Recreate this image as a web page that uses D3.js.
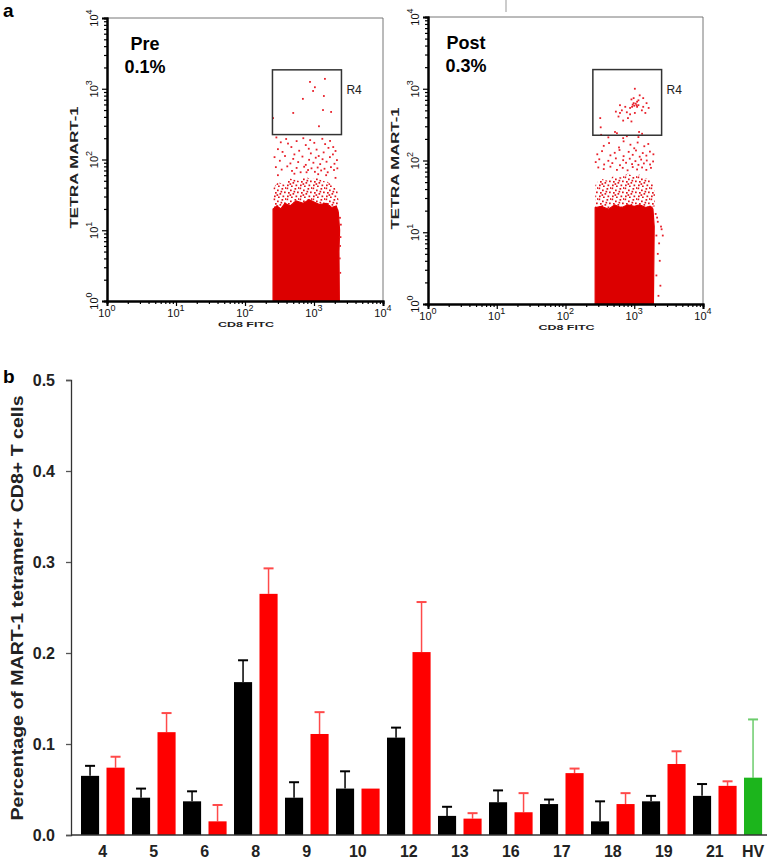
<!DOCTYPE html>
<html>
<head>
<meta charset="utf-8">
<script src="https://cdn.jsdelivr.net/npm/d3@7/dist/d3.min.js"></script>
<style>
  html, body { margin: 0; padding: 0; background: #fff; }
  svg { display: block; }
  text { font-family: "Liberation Sans", Arial, sans-serif; }
</style>
</head>
<body>
<svg id="chart" width="773" height="863"></svg>
<script>
// ---------------- DATA ----------------
// Panel a: flow cytometry (CD8 FITC vs TETRA MART-1)
const flowTicks = [1, 10, 100, 1000, 10000];
const flowTickExp = ["0", "1", "2", "3", "4"];
const gateX = [250, 2500];
const gateY = [225, 1850];

// solid event core outline and stippled transition zone (CD8, TETRA)
const preCore = [[255,1],[255,20],[290,22],[330,20],[380,24],[450,22],[550,26],[700,24],[850,27],[1000,25],[1200,23],[1500,24],[1800,21],[2100,22],[2250,18],[2350,10],[2300,5],[2330,1]];
const preZone = [[255,19],[258,40],[300,48],[380,44],[450,54],[600,50],[750,58],[900,52],[1100,56],[1300,50],[1600,48],[1900,42],[2200,36],[2320,24],[2250,18]];
const preDots = [
  [875,1250],[1440,1380],[1030,1050],[970,930],[690,720],[1390,790],[500,455],[1350,500],[1770,470],[255,385],[1180,295],
  [285,205],[330,175],[395,195],[420,168],[560,182],[700,200],[760,160],[880,188],[1010,172],[1320,196],[1450,165],[1710,183],[1900,150],
  [300,140],[350,128],[470,150],[520,118],[610,133],[840,142],[900,122],[1090,138],[1170,112],[1380,126],[1620,146],[1880,118],[2050,132],
  [268,108],[320,96],[380,112],[455,88],[500,102],[590,92],[680,110],[760,84],[850,99],[980,90],[1060,106],[1230,86],[1330,101],[1520,93],[1700,108],[1980,87],[2150,98],
  [280,78],[340,72],[410,80],[480,69],[560,76],[640,66],[720,79],[820,71],[920,75],[1030,67],[1130,77],[1270,70],[1420,74],[1580,66],[1760,78],[1950,71],[2180,75],
  [300,60],[520,63],[780,66],[1150,62],[1500,60],[2050,55],
  [2380,15],[2420,8],[2360,4],[2450,12],[2400,2.5],[2390,6]
];

const postCore = [[270,1],[270,22],[330,23],[420,21],[520,24],[650,22],[800,24],[1000,23],[1200,24],[1500,22],[1700,23],[1870,21],[1950,12],[1900,1]];
const postZone = [[270,21],[272,46],[320,56],[420,52],[500,62],[650,58],[800,66],[1000,60],[1200,64],[1400,57],[1650,55],[1850,48],[2000,34],[1960,22]];
const postDots = [
  [1020,1000],[1200,810],[910,710],[1100,660],[980,630],[1150,590],[620,590],[740,560],[870,540],[660,500],[540,480],
  [780,470],[1020,460],[1290,500],[1350,560],[1510,630],[1350,740],[1100,560],[590,410],[810,390],[690,360],[910,350],
  [320,390],[325,290],[525,250],[1175,250],[1150,690],[980,740],[870,440],[620,460],[1450,460],[1620,540],
  [950,600],[1050,620],[1000,580],[1080,590],[930,560],
  [330,228],[420,210],[560,240],[690,205],[780,218],[1150,212],[1300,236],
  [360,160],[430,175],[600,152],[700,185],[880,166],[1000,148],[1120,178],[1400,158],[1600,170],
  [290,122],[340,135],[450,118],[520,128],[610,140],[700,115],[830,132],[950,120],[1060,138],[1200,113],[1330,127],[1500,117],[1690,133],[1900,122],
  [275,95],[310,104],[365,88],[420,99],[480,92],[540,107],[620,86],[690,101],[760,93],[860,106],[930,89],[1040,98],[1150,87],[1260,103],[1380,91],[1520,100],[1700,88],[1880,97],
  [300,80],[360,76],[450,82],[560,74],[680,79],[800,73],[950,81],[1100,75],[1300,80],[1500,74],[1750,79],
  [2050,18],[2200,14],[2450,12],[2100,9],[2300,7],[2500,11],[2200,5],[2350,4],[2100,2.5],[2400,1.8],[2250,1.3],[2150,16],[2600,9]
];

// Panel b: bar chart
const patients = ["4","5","6","8","9","10","12","13","16","17","18","19","21"];
const preValues  = [0.065,0.041,0.037,0.168,0.041,0.051,0.107,0.021,0.036,0.034,0.015,0.037,0.043];
const preSD      = [0.011,0.010,0.011,0.024,0.017,0.019,0.011,0.010,0.013,0.005,0.022,0.006,0.013];
const postValues = [0.074,0.113,0.015,0.265,0.111,0.051,0.201,0.018,0.025,0.068,0.034,0.078,0.054];
const postSD     = [0.012,0.021,0.018,0.028,0.024,0.000,0.055,0.006,0.021,0.005,0.012,0.014,0.005];
const hvLabel = "HV";
const hvValue = 0.063;
const hvSD = 0.064;
const yTicks = [0.0, 0.1, 0.2, 0.3, 0.4, 0.5];

// ---------------- DRAW ----------------
const svg = d3.select("#chart");

// stipple pattern for the transition zone of the event cloud (hand-placed dots in a 13x11 tile)
const stipple = [[0.5,0.5],[4,2.5],[8.5,1],[11,4.5],[2,5],[6.5,6],[9.5,8.5],[1,8.5],[5,9.5],[12,0.2],[3.5,7.2],[7.5,3.8]];
const defs = svg.append("defs");
const pat = defs.append("pattern").attr("id", "stip").attr("width", 13).attr("height", 11)
  .attr("patternUnits", "userSpaceOnUse");
stipple.forEach(p =>
  pat.append("rect").attr("x", p[0]).attr("y", p[1]).attr("width", 1.7).attr("height", 1.7).attr("fill", "#e0141c"));

svg.append("text").attr("x", 3).attr("y", 17).attr("font-size", 19).attr("font-weight", "bold").text("a");
svg.append("text").attr("x", 3).attr("y", 383).attr("font-size", 19).attr("font-weight", "bold").text("b");
// small grey mark at top
svg.append("line").attr("x1", 506).attr("x2", 506).attr("y1", 0).attr("y2", 12).attr("stroke", "#999").attr("stroke-width", 1);

function flowPlot(box, core, zone, dots, title, pct) {
  const g = svg.append("g");
  const x = d3.scaleLog().domain([1, 10000]).range([box.x0, box.x1]);
  const y = d3.scaleLog().domain([1, 10000]).range([box.y1, box.y0]);
  const line = d3.line().x(d => x(d[0])).y(d => y(d[1]));

  // frame (top & right thin)
  g.append("path").attr("d", `M${box.x0},${box.y0}H${box.x1}V${box.y1}`)
    .attr("fill", "none").attr("stroke", "#777").attr("stroke-width", 1);

  // stippled zone, dense core
  g.append("path").datum(zone).attr("d", line).attr("fill", "url(#stip)");
  g.append("path").datum(core).attr("d", line)
    .attr("fill", "#dc0000").attr("stroke", "#e30000").attr("stroke-width", 1.2);
  // sparse events
  g.selectAll("rect.ev").data(dots).join("rect")
    .attr("x", d => x(d[0]) - 0.9).attr("y", d => y(d[1]) - 0.9)
    .attr("width", 1.8).attr("height", 1.8).attr("fill", "#e8202a");

  // gate
  g.append("rect")
    .attr("x", x(gateX[0])).attr("y", y(gateY[1]))
    .attr("width", x(gateX[1]) - x(gateX[0])).attr("height", y(gateY[0]) - y(gateY[1]))
    .attr("fill", "none").attr("stroke", "#333").attr("stroke-width", 1.5);
  g.append("text").attr("x", x(gateX[1]) + 5).attr("y", y(gateY[1]) + 24)
    .attr("font-size", 12).attr("fill", "#222").text("R4");

  // minor ticks
  const minors = [];
  for (let d = 1; d < 10000; d *= 10) for (let k = 2; k <= 9; k++) minors.push(d * k);

  const xAxis = g.append("g").attr("transform", `translate(0,${box.y1})`);
  xAxis.call(d3.axisBottom(x).tickValues(minors).tickSize(3).tickFormat(""));
  xAxis.append("g").call(d3.axisBottom(x).tickValues(flowTicks).tickSize(5).tickFormat(""));
  const yAxis = g.append("g").attr("transform", `translate(${box.x0},0)`);
  yAxis.call(d3.axisLeft(y).tickValues(minors).tickSize(3).tickFormat(""));
  yAxis.append("g").call(d3.axisLeft(y).tickValues(flowTicks).tickSize(5).tickFormat(""));
  g.selectAll(".domain").attr("stroke", "#000").attr("stroke-width", 2);
  g.selectAll(".tick line").attr("stroke", "#000").attr("stroke-width", 1.2);

  // x tick labels
  flowTicks.forEach((t, i) => {
    const tx = g.append("text").attr("x", x(t)).attr("y", box.y1 + 16)
      .attr("text-anchor", "middle").attr("font-size", 11).attr("fill", "#111");
    tx.append("tspan").text("10");
    tx.append("tspan").attr("dy", -6).attr("font-size", 9).text(flowTickExp[i]);
  });
  // y tick labels (rotated)
  flowTicks.forEach((t, i) => {
    const ty = g.append("text")
      .attr("transform", `translate(${box.x0 - 9},${y(t)}) rotate(-90)`)
      .attr("text-anchor", "middle").attr("font-size", 11).attr("fill", "#111");
    ty.append("tspan").text("10");
    ty.append("tspan").attr("dy", -6).attr("font-size", 9).text(flowTickExp[i]);
  });

  g.append("text").attr("x", (box.x0 + box.x1) / 2 + 1).attr("y", box.y1 + 26)
    .attr("text-anchor", "middle").attr("font-size", 8).attr("font-weight", "bold").attr("fill", "#222")
    .attr("textLength", 56).attr("lengthAdjust", "spacingAndGlyphs").text("CD8 FITC");
  g.append("text").attr("transform", `translate(${box.x0 - 29},${(box.y0 + box.y1) / 2 + 8}) rotate(-90)`)
    .attr("text-anchor", "middle").attr("font-size", 10).attr("font-weight", "bold").attr("fill", "#222")
    .attr("textLength", 122).attr("lengthAdjust", "spacingAndGlyphs").text("TETRA MART-1");

  g.append("text").attr("x", box.x0 + 38).attr("y", box.y0 + 32)
    .attr("text-anchor", "middle").attr("font-size", 18).attr("font-weight", "bold").text(title);
  g.append("text").attr("x", box.x0 + 38).attr("y", box.y0 + 55)
    .attr("text-anchor", "middle").attr("font-size", 18).attr("font-weight", "bold").text(pct);
}

flowPlot({x0: 107, x1: 383, y0: 18, y1: 301}, preCore, preZone, preDots, "Pre", "0.1%");
flowPlot({x0: 428, x1: 703, y0: 17, y1: 304}, postCore, postZone, postDots, "Post", "0.3%");

// ---------------- Panel b ----------------
const bars = [];
patients.forEach((p, i) => {
  bars.push({key: p + "-pre", group: p, value: preValues[i], sd: preSD[i], fill: "#000000", err: "#000000"});
  bars.push({key: p + "-post", group: p, value: postValues[i], sd: postSD[i], fill: "#ff0000", err: "#ff4a4a"});
});
bars.push({key: hvLabel, group: hvLabel, value: hvValue, sd: hvSD, fill: "#1cb51c", err: "#6ccc6c"});

const bx = d3.scaleBand().domain(bars.map(d => d.key)).range([77.3, 765.8]).paddingInner(0.29).paddingOuter(0.145);
const by = d3.scaleLinear().domain([0, 0.5]).range([835, 380]);

const gb = svg.append("g");
// y axis
const yax = gb.append("g").attr("transform", "translate(71,0)")
  .call(d3.axisLeft(by).tickValues(yTicks).tickSize(5).tickFormat(d3.format(".1f")));
yax.select(".domain").attr("stroke", "#333").attr("stroke-width", 1.3);
yax.selectAll(".tick line").attr("stroke", "#555").attr("stroke-width", 1.3);
yax.selectAll(".tick text").attr("font-family", "'Liberation Sans', Arial, sans-serif")
  .attr("font-size", 16).attr("font-weight", "bold").attr("fill", "#222").attr("x", -16);

// error bars
const eb = gb.selectAll("g.eb").data(bars.filter(d => d.sd > 0)).join("g");
eb.append("line")
  .attr("x1", d => bx(d.key) + bx.bandwidth() / 2).attr("x2", d => bx(d.key) + bx.bandwidth() / 2)
  .attr("y1", d => by(d.value)).attr("y2", d => by(d.value + d.sd))
  .attr("stroke", d => d.err).attr("stroke-width", 1.5);
eb.append("line")
  .attr("x1", d => bx(d.key) + bx.bandwidth() / 2 - 5).attr("x2", d => bx(d.key) + bx.bandwidth() / 2 + 5)
  .attr("y1", d => by(d.value + d.sd)).attr("y2", d => by(d.value + d.sd))
  .attr("stroke", d => d.err).attr("stroke-width", 2);

// bars
gb.selectAll("rect.bar").data(bars).join("rect")
  .attr("x", d => bx(d.key)).attr("width", bx.bandwidth())
  .attr("y", d => by(d.value)).attr("height", d => by(0) - by(d.value))
  .attr("fill", d => d.fill);

// baseline
gb.append("line").attr("x1", 71).attr("x2", 767).attr("y1", by(0)).attr("y2", by(0))
  .attr("stroke", "#333").attr("stroke-width", 1.3);

// category labels
const groups = patients.concat([hvLabel]);
groups.forEach(gname => {
  const members = bars.filter(b => b.group === gname);
  const cx = d3.mean(members, b => bx(b.key) + bx.bandwidth() / 2);
  gb.append("text").attr("x", cx).attr("y", 857).attr("text-anchor", "middle")
    .attr("font-size", 16).attr("font-weight", "bold").attr("fill", "#222").text(gname);
});

// y axis title
gb.append("text").attr("transform", "translate(23,608) rotate(-90)")
  .attr("text-anchor", "middle").attr("font-size", 17).attr("font-weight", "bold").attr("fill", "#222")
  .attr("textLength", 425).attr("lengthAdjust", "spacingAndGlyphs")
  .text("Percentage of MART-1 tetramer+ CD8+ T cells");
</script>
</body>
</html>
